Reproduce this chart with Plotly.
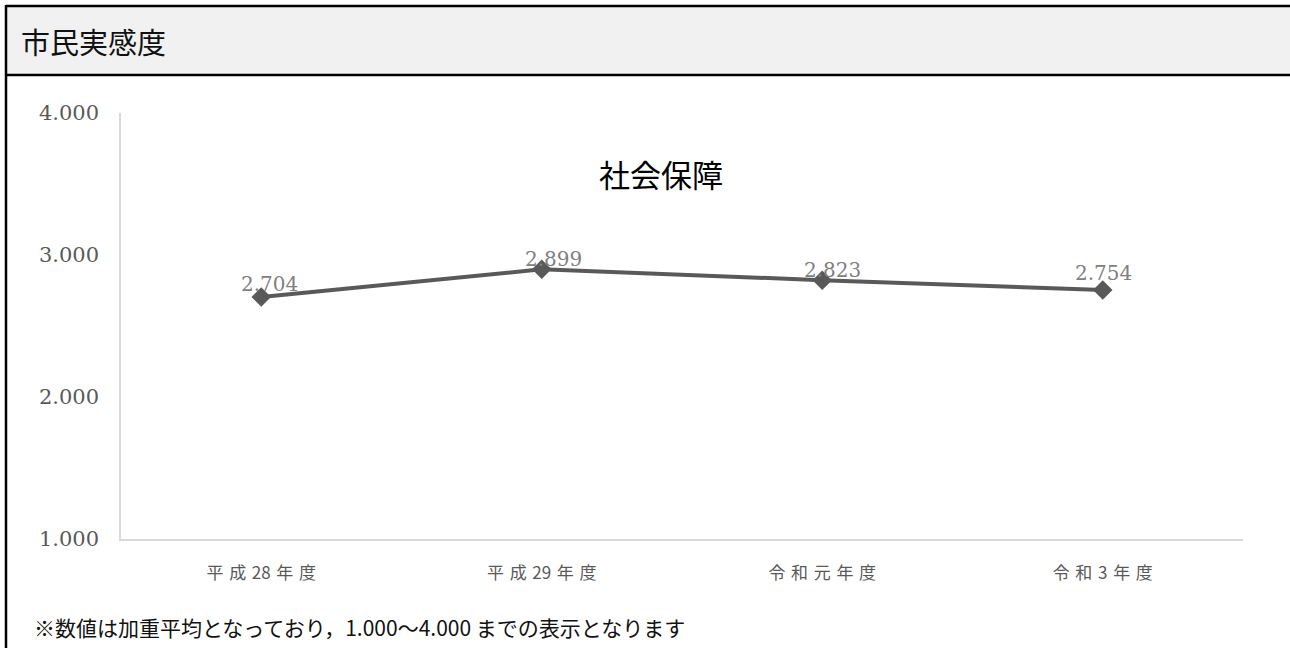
import plotly.graph_objects as go

# ---- data ----
years = ["平成28年度", "平成29年度", "令和元年度", "令和3年度"]
year_ticktext = ["平\u2004成\u200428\u2004年\u2004度", "平\u2004成\u200429\u2004年\u2004度",
                 "令\u2004和\u2004元\u2004年\u2004度", "令\u2004和\u20043\u2004年\u2004度"]
scores = [2.704, 2.899, 2.823, 2.754]
y_ticks = [1.0, 2.0, 3.0, 4.0]

header_title = "市民実感度"
chart_title = "社会保障"
footnote = "※数値は加重平均となっており，1.000～4.000 までの表示となります"

# label nudges (pixels, right / up) for the value labels
label_nudge = [(8, 13), (12, 10), (10, 10), (1, 17)]

# ---- page geometry ----
W, H = 1290, 648
L, R, T, B = 121, 1243, 113, 539  # plot area in pixels

LINE = "#595959"
serif = "DejaVu Serif"
sans = "Noto Sans CJK JP"


def frame(x0, x1, y0, y1, **kw):
    # pixel-positioned shape anchored to the page's top-left corner
    return dict(xref="paper", yref="paper", xsizemode="pixel", ysizemode="pixel",
                xanchor=0, yanchor=1, x0=x0 - L, x1=x1 - L, y0=T - y0, y1=T - y1, **kw)


def px(x):
    return (x - L) / (R - L)


def py(y):
    return (B - y) / (B - T)


fig = go.Figure()
fig.add_trace(go.Scatter(
    x=years, y=scores, mode="lines+markers",
    line=dict(color=LINE, width=4),
    marker=dict(symbol="diamond", size=15, color=LINE),
    hoverinfo="skip", showlegend=False, cliponaxis=False,
))

annotations = []
for cat, val, (dx, dy) in zip(years, scores, label_nudge):
    annotations.append(dict(
        x=cat, y=val, xref="x", yref="y", text=f"{val:.3f}",
        showarrow=False, xanchor="center", yanchor="middle",
        xshift=dx, yshift=dy,
        font=dict(family=serif, size=20, color="#808080"),
    ))

annotations += [
    dict(x=px(661), y=py(173), xref="paper", yref="paper", text=chart_title,
         showarrow=False, xanchor="center", yanchor="middle",
         font=dict(family=sans, size=31, color="#000000")),
    dict(x=px(19), y=py(41), xref="paper", yref="paper", text=header_title,
         showarrow=False, xanchor="left", yanchor="middle",
         font=dict(family=sans, size=29, color="#111111")),
    dict(x=px(32), y=py(627), xref="paper", yref="paper", text=footnote,
         showarrow=False, xanchor="left", yanchor="middle",
         font=dict(family=sans, size=21, color="#111111")),
]

shapes = [
    # header band
    frame(6, W + 4, 75, 6, type="rect", fillcolor="#f1f1f1",
          line=dict(width=0), layer="below"),
    # frame lines
    frame(6, W + 4, 6, 6, type="line", line=dict(color="#000000", width=2.5)),
    frame(6, W + 4, 75, 75, type="line", line=dict(color="#000000", width=2.5)),
    frame(6, 6, 5, H + 4, type="line", line=dict(color="#000000", width=2.5)),
]

fig.update_layout(
    width=W, height=H,
    margin=dict(l=L, r=W - R, t=T, b=H - B, pad=0),
    paper_bgcolor="white", plot_bgcolor="white",
    annotations=annotations, shapes=shapes,
    xaxis=dict(
        type="category", tickmode="array", tickvals=years, ticktext=year_ticktext,
        showline=True, linecolor="#d9d9d9", linewidth=1.5,
        showgrid=False, zeroline=False, ticks="",
        ticklabelstandoff=18,
        tickfont=dict(family=sans, size=17, color="#595959"),
        range=[-0.5, 3.5], fixedrange=True,
    ),
    yaxis=dict(
        range=[1.0, 4.0], tickvals=y_ticks, tickformat=".3f",
        showline=True, linecolor="#d9d9d9", linewidth=1.5,
        showgrid=False, zeroline=False, ticks="",
        ticklabelstandoff=16,
        tickfont=dict(family=serif, size=21, color="#595959"),
        fixedrange=True,
    ),
)

fig.write_html("out.html", config={"displayModeBar": False})
